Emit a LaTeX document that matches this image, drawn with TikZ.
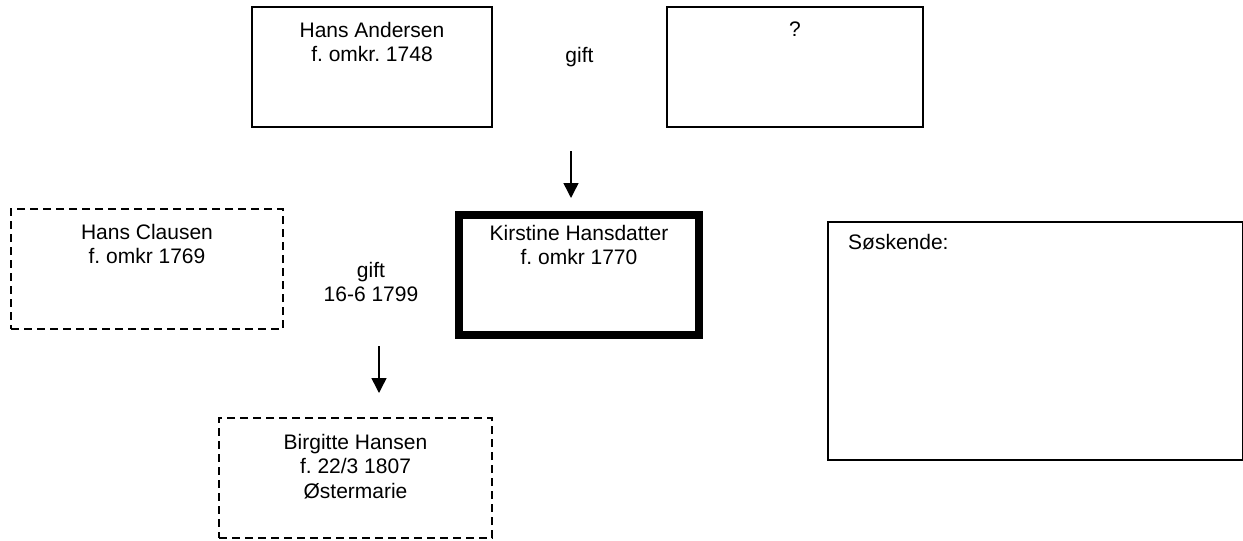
\documentclass[tikz,border=0pt]{standalone}
\usepackage{fontspec}
\setmainfont{Liberation Sans}
\usetikzlibrary{arrows.meta}
\frenchspacing
\begin{document}
\begin{tikzpicture}[x=1pt,y=-1pt,
  box/.style={draw, line width=2pt, rectangle, inner sep=0pt},
  dbox/.style={box, dash pattern=on 8pt off 5pt},
  thickbox/.style={draw, line width=8pt, rectangle, inner sep=0pt},
  txt/.style={inner sep=0pt, align=center, font=\fontsize{21}{24.5}\selectfont},
  conn/.style={line width=1.5pt, -{Triangle[width=15pt,length=15pt]}}]
\useasboundingbox (0,0) rectangle (1243,541);
% boxes
\node[box, minimum width=240pt, minimum height=120pt] (ha) at (372,67) {};
\node[box, minimum width=256pt, minimum height=120pt] (uk) at (795,67) {};
\node[thickbox, minimum width=240pt, minimum height=120pt] (kh) at (579,275) {};
\node[dbox, minimum width=272pt, minimum height=120pt] (hc) at (147,269) {};
\node[dbox, minimum width=273pt, minimum height=120pt] (bh) at (355.5,478) {};
\node[box, minimum width=415pt, minimum height=238pt] (sk) at (1035,341) {};
% texts
\node[txt, anchor=north] (haT) at (372,22) {Hans Andersen\\f. omkr. 1748};
\node[txt, anchor=north] (ukT) at (795,22) {?};
\node[txt, anchor=base] (g1) at (579.5,62) {gift};
\node[txt, anchor=north] (khT) at (579,225) {Kirstine Hansdatter\\f. omkr 1770};
\node[txt, anchor=north] (hcT) at (147,224) {Hans Clausen\\f. omkr 1769};
\node[txt, anchor=base] (g2) at (371,277) {gift};
\node[txt, anchor=base] (g2d) at (371,301.5) {16-6 1799};
\node[txt, anchor=north] (bhT) at (355.5,434) {Birgitte Hansen\\f. 22/3 1807\\Østermarie};
\node[txt, anchor=north west] (skT) at (848,234) {Søskende:};
% arrows
\coordinate (a1s) at (571,151);
\coordinate (a1e) at (571,198);
\coordinate (a2s) at (379,346);
\coordinate (a2e) at (379,393);
\draw[conn] (a1s) -- (a1e);
\draw[conn] (a2s) -- (a2e);
\end{tikzpicture}
\end{document}
